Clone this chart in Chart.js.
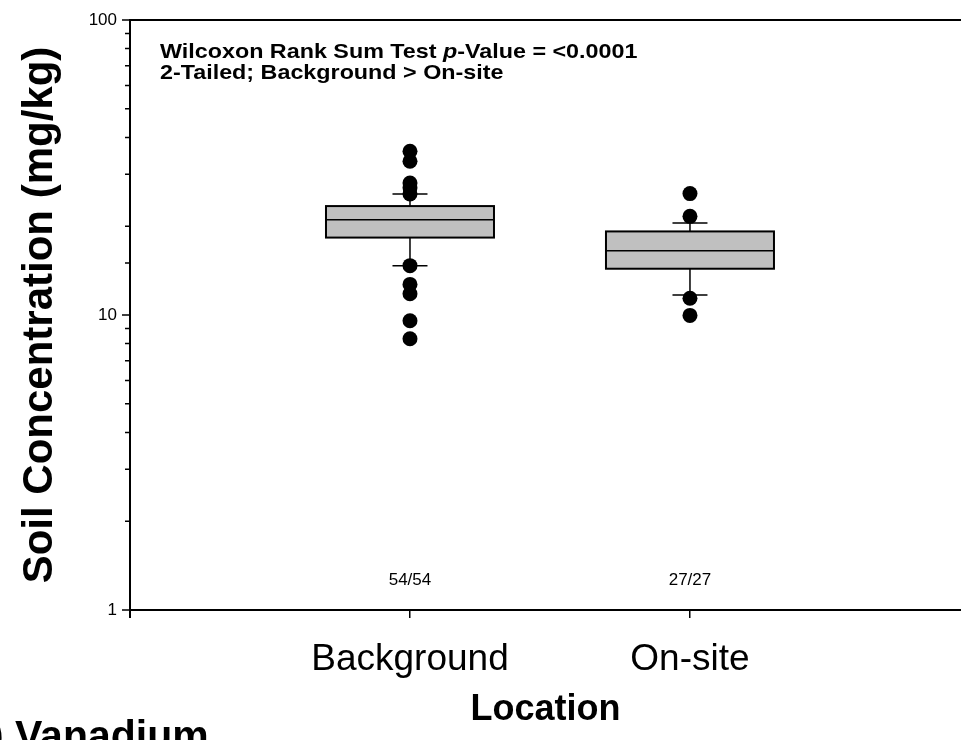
<!DOCTYPE html>
<html>
<head>
<meta charset="utf-8">
<script src="https://cdn.jsdelivr.net/npm/chart.js@4"></script>
<style>
  html, body { margin: 0; padding: 0; background: #fff; }
  #wrap { width: 961px; height: 740px; }
</style>
</head>
<body>
<div id="wrap"><canvas id="boxChart" width="961" height="740"></canvas></div>
<script>
// categories on the x axis and sample counts (detects / total)
var categories = ["Background", "On-site"];
var counts = ["54/54", "27/27"];

// box statistics (mg/kg)
var whiskerLow = [14.7, 11.7];
var q1 = [18.3, 14.35];
var median = [21.05, 16.5];
var q3 = [23.4, 19.2];
var whiskerHigh = [25.7, 20.5];

// outliers beyond the whiskers
var outliersBackground = [35.9, 33.2, 28.0, 27.0, 25.7, 14.7, 12.7, 11.8, 9.56, 8.31];
var outliersOnsite = [25.8, 21.6, 11.4, 9.97];

// y tick labels to show on the log axis
var yLabels = [1, 10, 100];

var pts = [];
outliersBackground.forEach(function (v) { pts.push({ x: 1, y: v }); });
outliersOnsite.forEach(function (v) { pts.push({ x: 2, y: v }); });

var boxPlugin = {
  id: "boxes",
  beforeDatasetsDraw: function (chart) {
    var ctx = chart.ctx;
    var xs = chart.scales.x, ys = chart.scales.y;
    ctx.save();
    for (var i = 0; i < categories.length; i++) {
      var c = i + 1;
      var xl = xs.getPixelForValue(c - 0.3), xr = xs.getPixelForValue(c + 0.3);
      var xc = xs.getPixelForValue(c);
      var cl = xs.getPixelForValue(c - 0.0625), cr = xs.getPixelForValue(c + 0.0625);
      var yq1 = ys.getPixelForValue(q1[i]), yq3 = ys.getPixelForValue(q3[i]);
      var ym = ys.getPixelForValue(median[i]);
      var ylo = ys.getPixelForValue(whiskerLow[i]), yhi = ys.getPixelForValue(whiskerHigh[i]);
      ctx.strokeStyle = "#000";
      ctx.lineWidth = 1.5;
      // whiskers
      ctx.beginPath();
      ctx.moveTo(xc, yq3); ctx.lineTo(xc, yhi);
      ctx.moveTo(xc, yq1); ctx.lineTo(xc, ylo);
      ctx.moveTo(cl, yhi); ctx.lineTo(cr, yhi);
      ctx.moveTo(cl, ylo); ctx.lineTo(cr, ylo);
      ctx.stroke();
      // box
      ctx.fillStyle = "#c0c0c0";
      ctx.fillRect(xl, yq3, xr - xl, yq1 - yq3);
      ctx.lineWidth = 2;
      ctx.strokeRect(xl, yq3, xr - xl, yq1 - yq3);
      ctx.lineWidth = 1.5;
      ctx.beginPath();
      ctx.moveTo(xl, ym); ctx.lineTo(xr, ym);
      ctx.stroke();
    }
    ctx.restore();
  },
  afterDraw: function (chart) {
    var ctx = chart.ctx;
    var xs = chart.scales.x, ys = chart.scales.y;
    var area = chart.chartArea;
    ctx.save();
    ctx.strokeStyle = "#000";
    // top frame line
    ctx.lineWidth = 2;
    ctx.beginPath();
    ctx.moveTo(area.left, area.top); ctx.lineTo(area.right, area.top);
    // left axis runs a little below the bottom axis
    ctx.moveTo(area.left, area.bottom); ctx.lineTo(area.left, area.bottom + 8);
    ctx.stroke();
    // log axis tick marks, long for decades and short between
    ctx.lineWidth = 1.5;
    ctx.beginPath();
    ys.ticks.forEach(function (t) {
      var y = ys.getPixelForValue(t.value);
      var major = Math.abs(Math.log10(t.value) - Math.round(Math.log10(t.value))) < 1e-9;
      ctx.moveTo(area.left, y);
      ctx.lineTo(area.left - (major ? 8 : 5), y);
    });
    ctx.stroke();

    // test annotation (the original lettering is a bit wide, so stretch it)
    ctx.fillStyle = "#000";
    ctx.textBaseline = "alphabetic";
    ctx.textAlign = "left";
    ctx.translate(area.left + 30, 0);
    ctx.scale(1.11, 1);
    var part1 = "Wilcoxon Rank Sum Test ";
    ctx.font = "bold 21px Arial, 'Liberation Sans', sans-serif";
    ctx.fillText(part1, 0, 58);
    var w = ctx.measureText(part1).width;
    ctx.font = "italic bold 21px Arial, 'Liberation Sans', sans-serif";
    ctx.fillText("p", w, 58);
    w += ctx.measureText("p").width;
    ctx.font = "bold 21px Arial, 'Liberation Sans', sans-serif";
    ctx.fillText("-Value = <0.0001", w, 58);
    ctx.fillText("2-Tailed; Background > On-site", 0, 79);
    ctx.setTransform(1, 0, 0, 1, 0, 0);

    // sample counts
    ctx.font = "17px Arial, 'Liberation Sans', sans-serif";
    ctx.textAlign = "center";
    ctx.textBaseline = "middle";
    for (var i = 0; i < counts.length; i++) {
      ctx.fillText(counts[i], xs.getPixelForValue(i + 1), area.bottom - 30);
    }

    // panel caption, partly off the page
    ctx.font = "bold 41px Arial, 'Liberation Sans', sans-serif";
    ctx.textAlign = "left";
    ctx.textBaseline = "alphabetic";
    var pre = "(b) ";
    ctx.fillText(pre + "Vanadium", 15 - ctx.measureText(pre).width, 749);
    ctx.restore();
  }
};

var ctx = document.getElementById("boxChart").getContext("2d");
var chart = new Chart(ctx, {
  type: "scatter",
  data: {
    datasets: [{
      data: pts,
      backgroundColor: "#000",
      borderColor: "#000",
      pointRadius: 7.5,
      pointHoverRadius: 7.5,
      borderWidth: 0
    }]
  },
  options: {
    responsive: false,
    animation: false,
    events: [],
    layout: { autoPadding: false, padding: { top: 20, left: 0, right: 0, bottom: 0 } },
    plugins: { legend: { display: false }, tooltip: { enabled: false } },
    scales: {
      x: {
        type: "linear",
        position: "bottom",
        min: 0,
        max: 2.968,
        afterBuildTicks: function (scale) {
          scale.ticks = categories.map(function (c, i) { return { value: i + 1 }; });
        },
        afterFit: function (scale) {
          scale.height = 130;
          scale.paddingLeft = 0;
          scale.paddingRight = 0;
        },
        grid: { display: true, drawOnChartArea: false, drawTicks: true, tickLength: 8, color: "#000", lineWidth: 1.5 },
        border: { display: true, color: "#000", width: 2 },
        ticks: {
          autoSkip: false,
          maxRotation: 0,
          padding: 20,
          color: "#000",
          font: { family: "Arial, 'Liberation Sans', sans-serif", size: 37 },
          callback: function (v) { return categories[Math.round(v) - 1] || ""; }
        },
        title: {
          display: true,
          text: "Location",
          color: "#000",
          font: { family: "Arial, 'Liberation Sans', sans-serif", size: 36, weight: "bold", lineHeight: 1 },
          padding: { top: 0, bottom: 12 }
        }
      },
      y: {
        type: "logarithmic",
        position: "left",
        min: 1,
        max: 100,
        afterFit: function (scale) {
          scale.width = 130;
          scale.paddingTop = 0;
          scale.paddingBottom = 0;
        },
        grid: { display: false, drawTicks: false },
        border: { display: true, color: "#000", width: 2 },
        ticks: {
          autoSkip: false,
          padding: 13,
          color: "#000",
          font: { family: "Arial, 'Liberation Sans', sans-serif", size: 17 },
          callback: function (v) { return yLabels.indexOf(v) >= 0 ? String(v) : ""; }
        },
        title: {
          display: true,
          text: "Soil Concentration (mg/kg)",
          color: "#000",
          font: { family: "Arial, 'Liberation Sans', sans-serif", size: 42, weight: "bold", lineHeight: 1 },
          padding: { top: 19, bottom: 0 }
        }
      }
    }
  },
  plugins: [boxPlugin]
});
</script>
</body>
</html>
